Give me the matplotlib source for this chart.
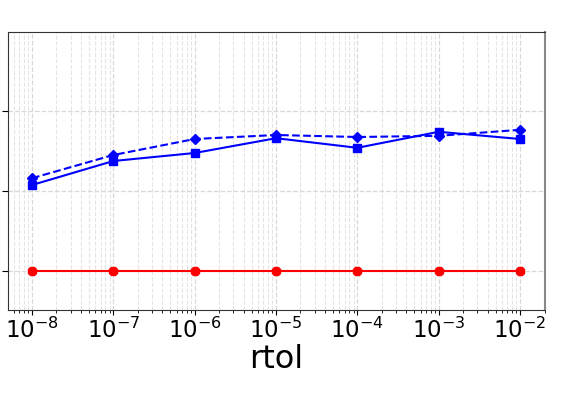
import numpy as np
import matplotlib.pyplot as plt

# === Data ===
rtol = [1e-8, 1e-7, 1e-6, 1e-5, 1e-4, 1e-3, 1e-2]
solid_sq = [1.075, 1.375, 1.475, 1.66, 1.54, 1.74, 1.65]
dashed_dia = [1.16, 1.45, 1.65, 1.70, 1.675, 1.69, 1.765]
red_pts = [0.0, 0.0, 0.0, 0.0, 0.0, 0.0, 0.0]
y_ticks = [0, 1, 2]

fig = plt.figure(figsize=(5.71, 3.98), dpi=100)
ax = fig.add_axes([8/571, 1 - 310/398, (545 - 8)/571, (310 - 32)/398])

ax.plot(rtol, red_pts, '-8', color='red', lw=1.5, ms=7)
ax.plot(rtol, solid_sq, '-s', color='blue', lw=1.5, ms=5.5)
ax.plot(rtol, dashed_dia, '--D', color='blue', lw=1.5, ms=5.5)

ax.set_xscale('log')
ax.set_xlim(10**-8.295, 10**-1.693)
ax.set_ylim(-0.4875, 2.9875)
ax.set_yticks(y_ticks)
ax.set_yticklabels([])
ax.set_xticks(rtol)

ax.grid(True, which='major', ls='--', color='#d8d8d8', lw=0.9)
ax.grid(True, which='minor', axis='x', ls='--', color='#e4e4e4', lw=0.8)
ax.tick_params(axis='x', labelsize=16.5, direction='out', pad=2)
ax.tick_params(axis='y', length=4)
ax.set_xlabel('rtol', fontsize=23)
ax.xaxis.labelpad = 1

for s in ['left', 'top', 'bottom']:
    ax.spines[s].set_color('#333333')
ax.spines['right'].set_color('#888888')
ax.spines['right'].set_linewidth(1.5)

fig.savefig('out.png', dpi=100)
